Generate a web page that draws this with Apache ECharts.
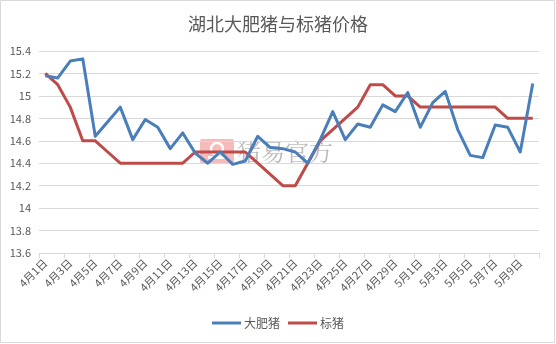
<!DOCTYPE html>
<html>
<head>
<meta charset="utf-8">
<script src="https://cdn.jsdelivr.net/npm/echarts@6/dist/echarts.min.js"></script>
<style>
  html, body { margin: 0; padding: 0; background: #fff; }
  #chart { width: 556px; height: 344px; }
</style>
</head>
<body>
<div id="chart"></div>
<script>
// Daily dates, April 1 to May 10
const days = [
  '4月1日','4月2日','4月3日','4月4日','4月5日','4月6日','4月7日','4月8日','4月9日','4月10日',
  '4月11日','4月12日','4月13日','4月14日','4月15日','4月16日','4月17日','4月18日','4月19日','4月20日',
  '4月21日','4月22日','4月23日','4月24日','4月25日','4月26日','4月27日','4月28日','4月29日','4月30日',
  '5月1日','5月2日','5月3日','5月4日','5月5日','5月6日','5月7日','5月8日','5月9日','5月10日'
];

// 大肥猪 price (元/kg)
const bigPig = [
  15.18, 15.16, 15.31, 15.33, 14.64, 14.77, 14.90, 14.61, 14.79, 14.72,
  14.53, 14.67, 14.49, 14.40, 14.50, 14.39, 14.42, 14.64, 14.54, 14.53,
  14.50, 14.40, 14.61, 14.86, 14.61, 14.75, 14.72, 14.92, 14.86, 15.03,
  14.72, 14.94, 15.04, 14.70, 14.47, 14.45, 14.74, 14.72, 14.50, 15.11
];

// 标猪 price (元/kg)
const stdPig = [
  15.20, 15.10, 14.90, 14.60, 14.60, 14.50, 14.40, 14.40, 14.40, 14.40,
  14.40, 14.40, 14.50, 14.50, 14.50, 14.50, 14.50, 14.40, 14.30, 14.20,
  14.20, 14.40, 14.60, 14.70, 14.80, 14.90, 15.10, 15.10, 15.00, 15.00,
  14.90, 14.90, 14.90, 14.90, 14.90, 14.90, 14.90, 14.80, 14.80, 14.80
];

const yMin = 13.6, yMax = 15.4, yStep = 0.2;

const chart = echarts.init(document.getElementById('chart'), null, { renderer: 'canvas' });
const textColor = '#595959';
const cjk = '"Microsoft YaHei", "Noto Sans CJK SC", "Noto Sans", sans-serif';

chart.setOption({
  animation: false,
  backgroundColor: '#ffffff',
  title: {
    text: '湖北大肥猪与标猪价格',
    left: 'center',
    top: 10,
    textStyle: { color: textColor, fontSize: 18, fontWeight: 'normal', fontFamily: cjk }
  },
  legend: {
    bottom: 10,
    left: 'center',
    itemWidth: 29,
    itemHeight: 3,
    itemGap: 8,
    icon: 'rect',
    textStyle: { color: textColor, fontSize: 12, fontFamily: cjk, padding: [0, 0, 0, -2] },
    data: ['大肥猪', '标猪']
  },
  grid: { left: 39, right: 17, top: 51, bottom: 91, containLabel: false },
  xAxis: {
    type: 'category',
    data: days,
    boundaryGap: true,
    axisLine: { lineStyle: { color: '#d9d9d9', width: 1 } },
    axisTick: { show: true, interval: 1, length: 5, lineStyle: { color: '#d9d9d9' } },
    axisLabel: {
      interval: 1,
      rotate: 45,
      color: textColor,
      fontSize: 11,
      fontFamily: cjk,
      margin: 8
    }
  },
  yAxis: {
    type: 'value',
    min: yMin,
    max: yMax,
    interval: yStep,
    axisLine: { show: false },
    axisTick: { show: false },
    splitLine: { lineStyle: { color: '#d9d9d9', width: 1 } },
    axisLabel: { color: textColor, fontSize: 11, fontFamily: cjk, margin: 8 }
  },
  series: [
    {
      name: '大肥猪',
      type: 'line',
      data: bigPig,
      symbol: 'none',
      z: 3,
      itemStyle: { color: '#4a7ebb' },
      lineStyle: { color: '#4a7ebb', width: 3, join: 'round' }
    },
    {
      name: '标猪',
      type: 'line',
      data: stdPig,
      symbol: 'none',
      z: 2,
      itemStyle: { color: '#be4b48' },
      lineStyle: { color: '#be4b48', width: 3, join: 'round' }
    }
  ],
  graphic: [
    // outer chart border
    {
      type: 'rect',
      z: -10,
      shape: { x: 0.5, y: 0.5, width: 554, height: 342 },
      style: { fill: 'none', stroke: '#d9d9d9', lineWidth: 1 }
    },
    // brand watermark
    {
      type: 'group',
      z: 0,
      silent: true,
      children: [
        {
          type: 'rect',
          shape: { x: 200, y: 139, width: 34, height: 25, r: 2 },
          style: { fill: 'rgba(236,130,130,0.55)' }
        },
        {
          type: 'circle',
          shape: { cx: 217, cy: 149, r: 6 },
          style: { fill: 'none', stroke: 'rgba(255,255,255,0.95)', lineWidth: 2.5 }
        },
        {
          type: 'rect',
          shape: { x: 208, y: 156, width: 18, height: 3 },
          style: { fill: 'rgba(255,255,255,0.95)' }
        },
        {
          type: 'text',
          x: 237,
          y: 152,
          style: {
            text: '猪易官方',
            fill: 'rgba(120,120,120,0.5)',
            font: '24px "Noto Serif CJK SC", "Noto Sans CJK SC", serif',
            textVerticalAlign: 'middle'
          }
        }
      ]
    }
  ]
});
</script>
</body>
</html>
